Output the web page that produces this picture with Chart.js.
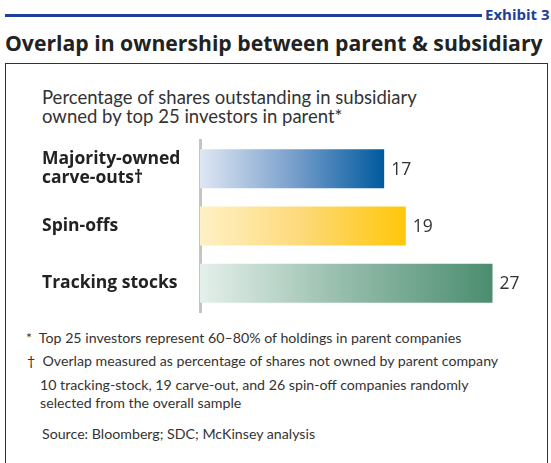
<!DOCTYPE html>
<html>
<head>
<meta charset="utf-8">
<script src="https://cdn.jsdelivr.net/npm/chart.js@4"></script>
<style>
  body { margin: 0; width: 551px; height: 463px; background: #fff; position: relative; overflow: hidden;
         font-family: "Open Sans", "Noto Sans", sans-serif; color: #222; }
  .rule { position: absolute; left: 5px; top: 14px; width: 477px; height: 3px; background: #1f3f98; }
  .exhibit { position: absolute; left: 485px; top: 4px; font-size: 15px; font-weight: bold; color: #1f3f98; white-space: nowrap; }
  .title { position: absolute; left: 5px; top: 28px; font-size: 21.2px; font-weight: bold; color: #222; white-space: nowrap; }
  .box { position: absolute; left: 5px; top: 63px; width: 541px; height: 420px; border: 1.5px solid #333; }
  .sub { position: absolute; left: 42px; top: 88px; font-family: Lato, sans-serif; font-size: 18.5px; line-height: 19px; color: #333; white-space: nowrap; }
  .note { position: absolute; font-family: Lato, sans-serif; font-size: 14.2px; line-height: 18px; color: #333; white-space: nowrap; }
  #wrap { position: absolute; left: 0; top: 135px; width: 551px; height: 185px; }
</style>
</head>
<body>
<div class="rule"></div>
<div class="exhibit">Exhibit 3</div>
<div class="title">Overlap in ownership between parent &amp; subsidiary</div>
<div class="box"></div>
<div class="sub">Percentage of shares outstanding in subsidiary<br>owned by top 25 investors in parent*</div>
<div id="wrap"><canvas id="chart"></canvas></div>
<div class="note" style="left:26px;top:329px">*&nbsp;&nbsp;Top 25 investors represent 60–80% of holdings in parent companies</div>
<div class="note" style="left:27px;top:352px">†&nbsp;&nbsp;Overlap measured as percentage of shares not owned by parent company</div>
<div class="note" style="left:40px;top:376px">10 tracking-stock, 19 carve-out, and 26 spin-off companies randomly<br>selected from the overall sample</div>
<div class="note" style="left:42px;top:425px">Source: Bloomberg; SDC; McKinsey analysis</div>
<script>
const categories = [["Majority-owned", "carve-outs†"], "Spin-offs", "Tracking stocks"];
const overlap = [17, 19, 27];

const gradStops = [
  ["#dfe7f3", "#7aa0cc", "#005a9e"],
  ["#fff1c6", "#fdd978", "#ffc70a"],
  ["#e5f0eb", "#94bcaa", "#4b8d6f"]
];

function barFill(ctx) {
  const chart = ctx.chart;
  if (!chart.chartArea || ctx.type !== "data") return "#ccc";
  const xs = chart.scales.x;
  const x0 = xs.getPixelForValue(0);
  const x1 = xs.getPixelForValue(ctx.raw);
  const g = chart.ctx.createLinearGradient(x0, 0, x1, 0);
  const s = gradStops[ctx.dataIndex];
  g.addColorStop(0, s[0]);
  g.addColorStop(0.5, s[1]);
  g.addColorStop(1, s[2]);
  return g;
}

const valueLabels = {
  id: "valueLabels",
  afterDatasetsDraw(chart) {
    const c = chart.ctx;
    c.save();
    c.font = "17.5px 'Open Sans', 'Noto Sans', sans-serif";
    c.fillStyle = "#333";
    c.textBaseline = "middle";
    chart.getDatasetMeta(0).data.forEach((bar, i) => {
      c.fillText(overlap[i], bar.x + 7, bar.y + 1);
    });
    c.restore();
  }
};

new Chart(document.getElementById("chart"), {
  type: "bar",
  data: {
    labels: categories,
    datasets: [{
      data: overlap,
      backgroundColor: barFill,
      barPercentage: 0.68,
      categoryPercentage: 1
    }]
  },
  options: {
    indexAxis: "y",
    responsive: true,
    maintainAspectRatio: false,
    animation: false,
    layout: { padding: { left: 42, right: 26, top: 5, bottom: 8 } },
    plugins: { legend: { display: false }, tooltip: { enabled: false } },
    scales: {
      x: { display: false, min: 0, max: 30 },
      y: {
        afterFit(scale) {
          scale.width = 158;
          scale.paddingTop = 0;
          scale.paddingBottom = 0;
        },
        grid: { display: false },
        border: { display: true, color: "#c4c4c4", width: 3 },
        ticks: {
          crossAlign: "far",
          color: "#222",
          font: { family: "'Open Sans', 'Noto Sans', sans-serif", size: 17.5, weight: "bold", lineHeight: 1.05 }
        }
      }
    }
  },
  plugins: [valueLabels]
});
</script>
</body>
</html>
